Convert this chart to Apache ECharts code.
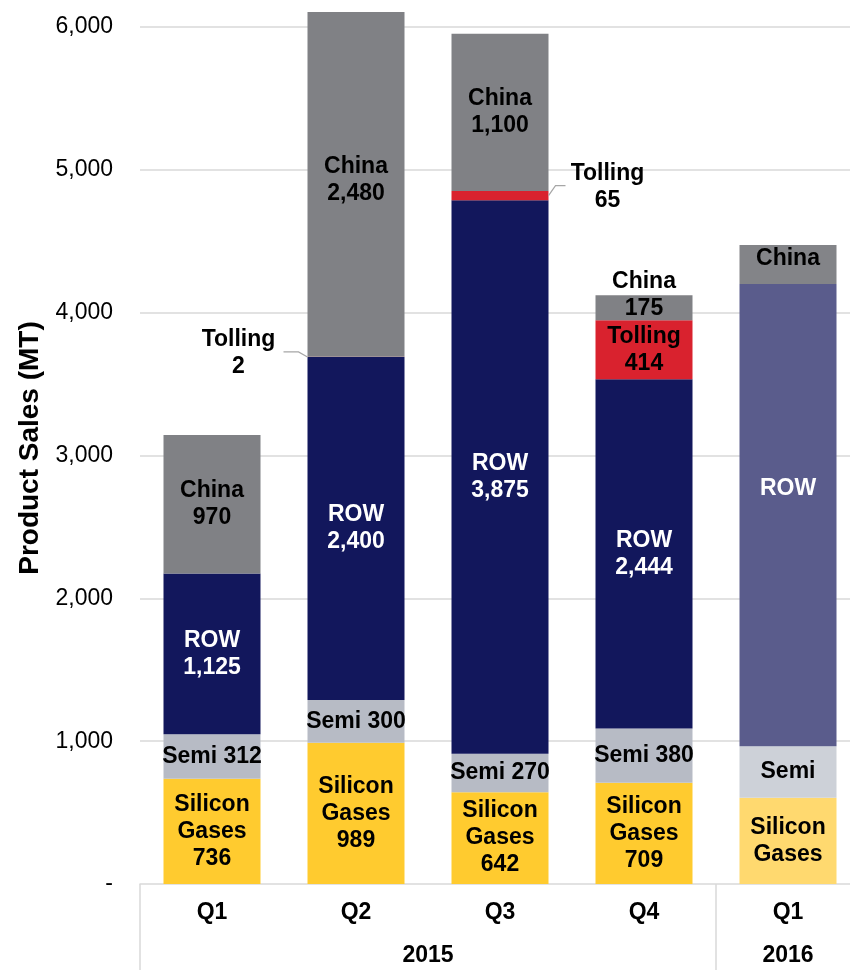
<!DOCTYPE html>
<html>
<head>
<meta charset="utf-8">
<title>Product Sales by Quarter</title>
<script src="https://cdn.jsdelivr.net/npm/echarts@6/dist/echarts.min.js"></script>
<style>
  html, body { margin: 0; padding: 0; background: #fff; }
  #chart { width: 850px; height: 970px; }
</style>
</head>
<body>
<div id="chart"></div>
<script>
// Quarterly product sales (MT), stacked by segment
const quarters = ['Q1', 'Q2', 'Q3', 'Q4', 'Q1'];
const yearGroups = [
  { name: '2015', from: 0, to: 4 },
  { name: '2016', from: 4, to: 5 }
];
const siliconGases = [736, 989, 642, 709, 604];
const semi = [312, 300, 270, 380, 361];
const row = [1125, 2400, 3875, 2444, 3235];
const tolling = [0, 2, 65, 414, 0];
const china = [970, 2480, 1100, 175, 273];
// 2016 Q1 is an outlook: lighter fills, no values printed
const outlook = [false, false, false, false, true];
const yTicks = [0, 1000, 2000, 3000, 4000, 5000, 6000];

// thin Tolling slices get their label outside the bar, with a leader line
const tollingCallout = { 1: 'left', 2: 'right' };

const FONT = '"Liberation Sans", Arial, Helvetica, sans-serif';
const BAR_W = 97;
const fmt = v => v.toLocaleString('en-US');

const palette = {
  silicon: ['#FFCB2F', '#FFD96F'],
  semi:    ['#B7BBC5', '#CDD1D8'],
  row:     ['#12175C', '#5A5C8C'],
  tolling: ['#D9222E', '#E06068'],
  china:   ['#808185', '#838488']
};

const baseLabel = {
  show: true,
  position: 'inside',
  fontFamily: FONT,
  fontSize: 23,
  fontWeight: 'bold',
  lineHeight: 27,
  color: '#000'
};

function buildSeries(name, values, colors, textOf, extra) {
  return {
    name: name,
    type: 'bar',
    stack: 'sales',
    barWidth: BAR_W,
    clip: true,
    data: values.map((v, i) => {
      const item = {
        value: v,
        itemStyle: { color: colors[outlook[i] ? 1 : 0] },
        label: Object.assign({}, baseLabel, { formatter: textOf(v, outlook[i]) })
      };
      if (v === 0) item.label.show = false;
      if (extra && extra[i]) Object.assign(item.label, extra[i]);
      return item;
    })
  };
}

const tollingHidden = {};
Object.keys(tollingCallout).forEach(k => { tollingHidden[k] = { show: false }; });

const series = [
  buildSeries('Silicon Gases', siliconGases, palette.silicon,
    (v, est) => est ? 'Silicon\nGases' : 'Silicon\nGases\n' + fmt(v)),
  buildSeries('Semi', semi, palette.semi,
    (v, est) => est ? 'Semi' : 'Semi ' + fmt(v)),
  buildSeries('ROW', row, palette.row,
    (v, est) => est ? 'ROW' : 'ROW\n' + fmt(v),
    { 0: { color: '#fff' }, 1: { color: '#fff' }, 2: { color: '#fff' },
      3: { color: '#fff' }, 4: { color: '#fff', offset: [0, -26] } }),
  buildSeries('Tolling', tolling, palette.tolling,
    (v) => 'Tolling\n' + fmt(v), tollingHidden),
  buildSeries('China', china, palette.china,
    (v, est) => est ? 'China' : 'China\n' + fmt(v),
    { 1: { offset: [0, -4] }, 3: { offset: [0, -13] }, 4: { offset: [0, -6] } })
];

// Leader-line callouts for the thin Tolling slices
const calloutData = Object.keys(tollingCallout).map(k => {
  const i = +k;
  const base = siliconGases[i] + semi[i] + row[i];
  return [i, base, tolling[i], tollingCallout[k] === 'left' ? -1 : 1];
});

series.push({
  name: 'Tolling callout',
  type: 'custom',
  silent: true,
  z: 5,
  data: calloutData,
  renderItem: function (params, api) {
    const cat = api.value(0), base = api.value(1), v = api.value(2), side = api.value(3);
    const mid = api.coord([cat, base + v / 2]);
    const edge = mid[0] + side * BAR_W / 2;
    const yc = mid[1];
    const pts = side < 0
      ? [[edge, yc], [edge - 9, yc - 5], [edge - 24, yc - 5]]
      : [[edge, yc], [edge + 7, yc - 10], [edge + 17, yc - 10]];
    const tx = side < 0 ? edge - 69 : edge + 59;
    const ty = side < 0 ? yc - 3.5 : yc - 8.5;
    return {
      type: 'group',
      children: [
        {
          type: 'polyline',
          shape: { points: pts },
          style: { stroke: '#a6a6a6', lineWidth: 1.2, fill: null }
        },
        {
          type: 'text',
          x: tx,
          y: ty,
          style: {
            text: 'Tolling\n' + fmt(v),
            fontFamily: FONT,
            fontSize: 23,
            fontWeight: 'bold',
            lineHeight: 27,
            fill: '#000',
            align: 'center',
            verticalAlign: 'middle'
          }
        }
      ]
    };
  }
});

// value-axis helper that places each year name at the middle of its quarter span
const yearAt = v => {
  const g = yearGroups.find(y => Math.abs((y.from + y.to) / 2 - v) < 1e-6);
  return g ? g.name : '';
};

const chart = echarts.init(document.getElementById('chart'), null, { renderer: 'canvas' });
chart.setOption({
  backgroundColor: '#fff',
  animation: false,
  textStyle: { fontFamily: FONT },
  grid: {
    left: 140, width: 720, top: 12, bottom: 86,
    containLabel: false, outerBoundsMode: 'none'
  },
  xAxis: [
    {
      type: 'category',
      data: quarters,
      boundaryGap: true,
      axisLine: { show: true, lineStyle: { color: '#d9d9d9', width: 1.5 } },
      axisTick: {
        show: true,
        alignWithLabel: false,
        interval: (idx) => yearGroups.some(g => g.from === idx),
        length: 86,
        lineStyle: { color: '#d9d9d9', width: 1.5 }
      },
      axisLabel: {
        margin: 17,
        fontFamily: FONT,
        fontSize: 23,
        fontWeight: 'bold',
        color: '#000'
      },
      splitLine: { show: false }
    },
    {
      type: 'value',
      position: 'bottom',
      offset: 43,
      min: 0,
      max: quarters.length,
      interval: 0.5,
      axisLine: { show: false },
      axisTick: { show: false },
      splitLine: { show: false },
      axisLabel: {
        margin: 17,
        fontFamily: FONT,
        fontSize: 23,
        fontWeight: 'bold',
        color: '#000',
        formatter: yearAt
      }
    }
  ],
  yAxis: {
    type: 'value',
    min: yTicks[0],
    max: 6105,
    interval: yTicks[1] - yTicks[0],
    name: 'Product Sales (MT)',
    nameLocation: 'middle',
    nameGap: 95,
    nameTextStyle: { fontFamily: FONT, fontSize: 28, fontWeight: 'bold', color: '#000' },
    axisLine: { show: false },
    axisTick: { show: false },
    axisLabel: {
      margin: 27,
      fontFamily: FONT,
      fontSize: 23,
      color: '#000',
      showMaxLabel: false,
      formatter: v => (yTicks.indexOf(v) < 0 ? '' : (v === 0 ? '-' : fmt(v)))
    },
    splitLine: {
      show: true,
      showMinLine: false,
      showMaxLine: false,
      lineStyle: { color: '#d9d9d9', width: 1.5 }
    }
  },
  series: series
});
</script>
</body>
</html>
